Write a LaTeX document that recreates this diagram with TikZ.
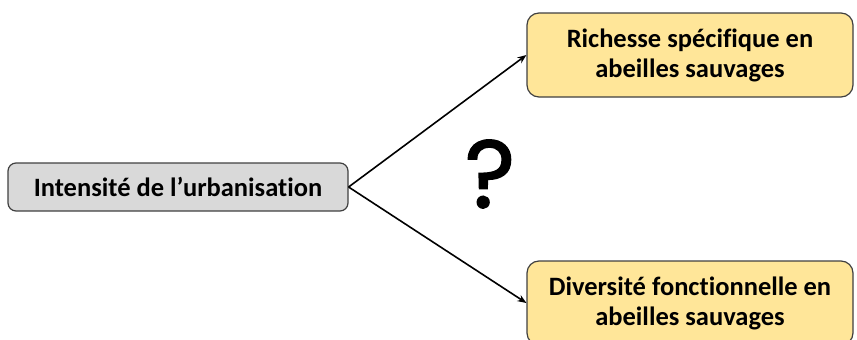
\documentclass[tikz,border=0pt]{standalone}
\usepackage{fontspec}
\setmainfont[Ligatures=NoCommon]{Carlito}
\newfontfamily\qfont[FakeBold=1.6]{Poppins}
\usetikzlibrary{arrows.meta}
\definecolor{boxgray}{HTML}{D9D9D9}
\definecolor{boxgold}{HTML}{FFE699}
\definecolor{edgegray}{HTML}{404040}
\tikzset{
  basebox/.style={draw=edgegray, line width=1.2pt, align=center, inner sep=0pt,
    font=\fontsize{26.5}{30}\selectfont\bfseries},
  graybox/.style={basebox, fill=boxgray, rounded corners=8pt, minimum width=340pt, minimum height=48pt},
  goldbox/.style={basebox, fill=boxgold, rounded corners=12pt, minimum width=326pt, minimum height=84pt},
  link/.style={line width=1.6pt, -{Stealth[length=9pt,width=7pt]}}
}
\begin{document}
\begin{tikzpicture}[x=1pt,y=1pt]
\useasboundingbox (0,0) rectangle (857,-340);
\node[graybox] (src) at (178,-187) {Intensité de l’urbanisation};
\node[goldbox] (rich) at (690,-55) {Richesse spécifique en\\abeilles sauvages};
\node[goldbox] (div) at (690,-303) {Diversité fonctionnelle en\\abeilles sauvages};
\node[font=\qfont\fontsize{96}{98}\selectfont, inner sep=0pt] (q) at (490,-174) {?};
\draw[link] (src.east) -- (rich.west);
\draw[link] (src.east) -- (div.west);
\end{tikzpicture}
\end{document}
